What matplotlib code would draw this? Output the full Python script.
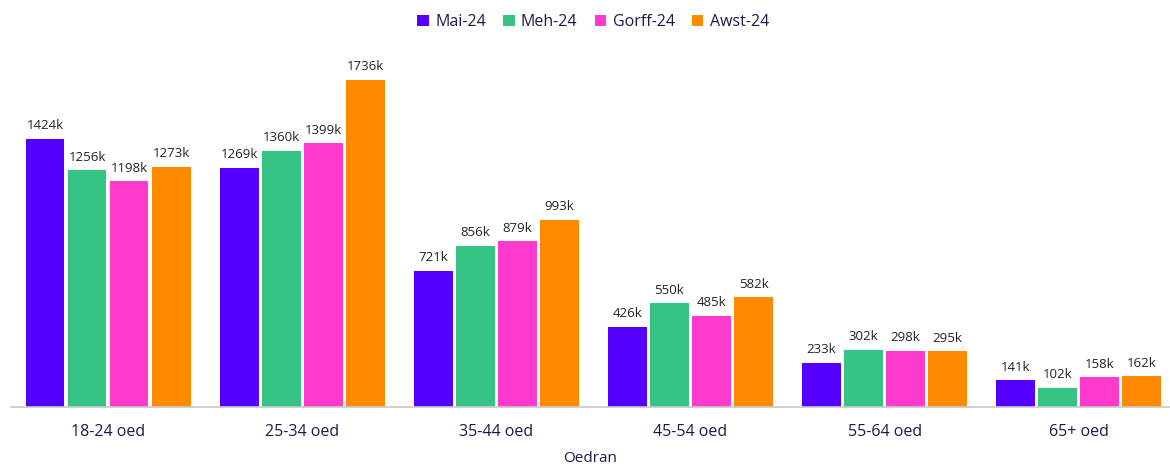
import matplotlib.pyplot as plt
import numpy as np

groups = ['18-24 oed', '25-34 oed', '35-44 oed', '45-54 oed', '55-64 oed', '65+ oed']
months = ['Mai-24', 'Meh-24', 'Gorff-24', 'Awst-24']
mai = [1424, 1269, 721, 426, 233, 141]
meh = [1256, 1360, 856, 550, 302, 102]
gorff = [1198, 1399, 879, 485, 298, 158]
awst = [1273, 1736, 993, 582, 295, 162]
colors = ['#5500FF', '#35C483', '#FF3ACD', '#FF8A00']
text_col = '#1B1B4B'

plt.rcParams['font.family'] = ['Open Sans', 'DejaVu Sans']

fig = plt.figure(figsize=(11.7, 4.65), dpi=100)
ax = fig.add_axes([11/1170, 58/465, 1159/1170, 377/465])

x = np.arange(len(groups))
pitch = 0.2165
width = 0.2
series = [mai, meh, gorff, awst]
for i, vals in enumerate(series):
    pos = x + (i - 1.5) * pitch
    bars = ax.bar(pos, vals, width=width, color=colors[i], label=months[i])
    for b, v in zip(bars, vals):
        ax.text(b.get_x() + b.get_width() / 2, v + 35, f'{v}k', ha='center', va='bottom',
                fontsize=9.5, color='#222222')

ax.set_xlim(-0.5, 5.47)
ax.set_ylim(0, 2000)
ax.set_yticks([])
ax.set_xticks(x)
ax.set_xticklabels(groups, fontsize=11.5, color=text_col)
ax.tick_params(axis='x', length=0, pad=12)
for s in ['top', 'right', 'left']:
    ax.spines[s].set_visible(False)
ax.spines['bottom'].set_color('#C8C8C8')
ax.spines['bottom'].set_linewidth(1.2)
ax.set_xlabel('Oedran', fontsize=11, color=text_col, labelpad=8)

fig.legend(loc='upper center', bbox_to_anchor=(0.507, 1.0), ncol=4, frameon=False,
           fontsize=11.5, handlelength=0.7, handleheight=0.7, handletextpad=0.4,
           columnspacing=1.1, labelcolor=text_col)

fig.savefig('out.png', dpi=100)
